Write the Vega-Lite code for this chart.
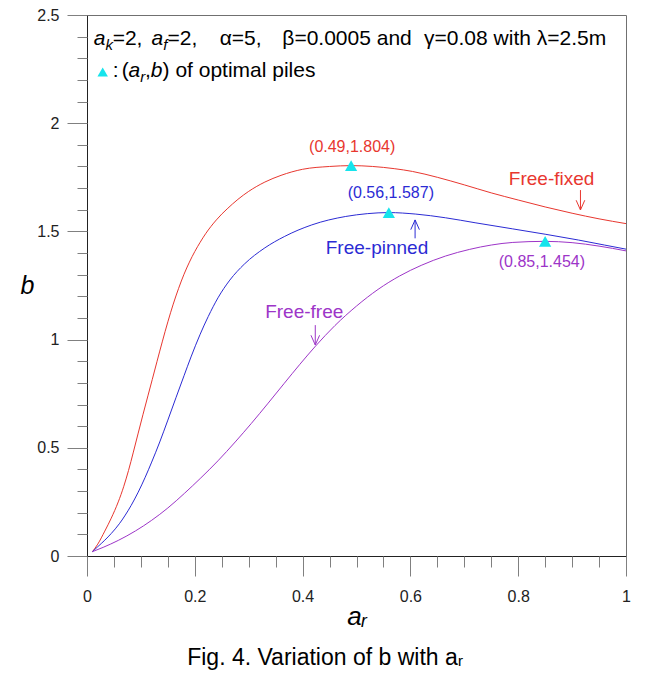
{
  "$schema": "https://vega.github.io/schema/vega-lite/v6.json",
  "width": 539,
  "height": 541,
  "autosize": "none",
  "padding": {"left": 87, "top": 15, "right": 21, "bottom": 129},
  "background": "white",
  "config": {
    "font": "Liberation Sans",
    "view": {"stroke": "#707070", "strokeWidth": 1}
  },
  "title": {
    "text": "Fig. 4. Variation of  b  with  aᵣ",
    "orient": "bottom",
    "anchor": "middle",
    "frame": "bounds",
    "font": "Liberation Sans",
    "fontSize": 23,
    "fontWeight": "normal",
    "color": "#000",
    "offset": 18
  },
  "resolve": {"axis": {"x": "independent", "y": "independent"}},
  "datasets": {
    "curves": [
      {"s": "Free-fixed", "x": 0.01, "y": 0.02},
      {"s": "Free-fixed", "x": 0.02, "y": 0.055},
      {"s": "Free-fixed", "x": 0.033, "y": 0.115},
      {"s": "Free-fixed", "x": 0.045, "y": 0.175},
      {"s": "Free-fixed", "x": 0.058, "y": 0.25},
      {"s": "Free-fixed", "x": 0.068, "y": 0.32},
      {"s": "Free-fixed", "x": 0.077, "y": 0.395},
      {"s": "Free-fixed", "x": 0.086, "y": 0.48},
      {"s": "Free-fixed", "x": 0.095, "y": 0.568},
      {"s": "Free-fixed", "x": 0.104, "y": 0.655},
      {"s": "Free-fixed", "x": 0.113, "y": 0.74},
      {"s": "Free-fixed", "x": 0.121, "y": 0.815},
      {"s": "Free-fixed", "x": 0.13, "y": 0.9},
      {"s": "Free-fixed", "x": 0.14, "y": 0.993},
      {"s": "Free-fixed", "x": 0.15, "y": 1.082},
      {"s": "Free-fixed", "x": 0.16, "y": 1.164},
      {"s": "Free-fixed", "x": 0.17, "y": 1.237},
      {"s": "Free-fixed", "x": 0.18, "y": 1.302},
      {"s": "Free-fixed", "x": 0.19, "y": 1.358},
      {"s": "Free-fixed", "x": 0.2, "y": 1.407},
      {"s": "Free-fixed", "x": 0.21, "y": 1.45},
      {"s": "Free-fixed", "x": 0.22, "y": 1.489},
      {"s": "Free-fixed", "x": 0.23, "y": 1.523},
      {"s": "Free-fixed", "x": 0.24, "y": 1.553},
      {"s": "Free-fixed", "x": 0.25, "y": 1.58},
      {"s": "Free-fixed", "x": 0.26, "y": 1.604},
      {"s": "Free-fixed", "x": 0.28, "y": 1.648},
      {"s": "Free-fixed", "x": 0.3, "y": 1.685},
      {"s": "Free-fixed", "x": 0.33, "y": 1.728},
      {"s": "Free-fixed", "x": 0.36, "y": 1.759},
      {"s": "Free-fixed", "x": 0.4, "y": 1.787},
      {"s": "Free-fixed", "x": 0.45, "y": 1.8},
      {"s": "Free-fixed", "x": 0.49, "y": 1.804},
      {"s": "Free-fixed", "x": 0.53, "y": 1.8},
      {"s": "Free-fixed", "x": 0.57, "y": 1.79},
      {"s": "Free-fixed", "x": 0.604, "y": 1.777},
      {"s": "Free-fixed", "x": 0.65, "y": 1.75},
      {"s": "Free-fixed", "x": 0.7, "y": 1.715},
      {"s": "Free-fixed", "x": 0.75, "y": 1.678},
      {"s": "Free-fixed", "x": 0.8, "y": 1.645},
      {"s": "Free-fixed", "x": 0.85, "y": 1.613},
      {"s": "Free-fixed", "x": 0.9, "y": 1.584},
      {"s": "Free-fixed", "x": 0.95, "y": 1.558},
      {"s": "Free-fixed", "x": 1.0, "y": 1.536},
      {"s": "Free-pinned", "x": 0.01, "y": 0.02},
      {"s": "Free-pinned", "x": 0.02, "y": 0.043},
      {"s": "Free-pinned", "x": 0.033, "y": 0.073},
      {"s": "Free-pinned", "x": 0.045, "y": 0.104},
      {"s": "Free-pinned", "x": 0.06, "y": 0.149},
      {"s": "Free-pinned", "x": 0.07, "y": 0.185},
      {"s": "Free-pinned", "x": 0.082, "y": 0.234},
      {"s": "Free-pinned", "x": 0.095, "y": 0.295},
      {"s": "Free-pinned", "x": 0.108, "y": 0.364},
      {"s": "Free-pinned", "x": 0.12, "y": 0.434},
      {"s": "Free-pinned", "x": 0.135, "y": 0.527},
      {"s": "Free-pinned", "x": 0.15, "y": 0.628},
      {"s": "Free-pinned", "x": 0.165, "y": 0.731},
      {"s": "Free-pinned", "x": 0.18, "y": 0.833},
      {"s": "Free-pinned", "x": 0.193, "y": 0.92},
      {"s": "Free-pinned", "x": 0.21, "y": 1.025},
      {"s": "Free-pinned", "x": 0.225, "y": 1.107},
      {"s": "Free-pinned", "x": 0.243, "y": 1.193},
      {"s": "Free-pinned", "x": 0.265, "y": 1.275},
      {"s": "Free-pinned", "x": 0.292, "y": 1.349},
      {"s": "Free-pinned", "x": 0.33, "y": 1.424},
      {"s": "Free-pinned", "x": 0.366, "y": 1.476},
      {"s": "Free-pinned", "x": 0.417, "y": 1.53},
      {"s": "Free-pinned", "x": 0.48, "y": 1.569},
      {"s": "Free-pinned", "x": 0.52, "y": 1.582},
      {"s": "Free-pinned", "x": 0.56, "y": 1.587},
      {"s": "Free-pinned", "x": 0.61, "y": 1.58},
      {"s": "Free-pinned", "x": 0.665, "y": 1.563},
      {"s": "Free-pinned", "x": 0.72, "y": 1.54},
      {"s": "Free-pinned", "x": 0.789, "y": 1.512},
      {"s": "Free-pinned", "x": 0.85, "y": 1.487},
      {"s": "Free-pinned", "x": 0.912, "y": 1.46},
      {"s": "Free-pinned", "x": 0.96, "y": 1.437},
      {"s": "Free-pinned", "x": 1.0, "y": 1.418},
      {"s": "Free-free", "x": 0.01, "y": 0.02},
      {"s": "Free-free", "x": 0.03, "y": 0.04},
      {"s": "Free-free", "x": 0.058, "y": 0.072},
      {"s": "Free-free", "x": 0.09, "y": 0.116},
      {"s": "Free-free", "x": 0.12, "y": 0.165},
      {"s": "Free-free", "x": 0.15, "y": 0.222},
      {"s": "Free-free", "x": 0.181, "y": 0.29},
      {"s": "Free-free", "x": 0.21, "y": 0.358},
      {"s": "Free-free", "x": 0.243, "y": 0.44},
      {"s": "Free-free", "x": 0.275, "y": 0.527},
      {"s": "Free-free", "x": 0.305, "y": 0.613},
      {"s": "Free-free", "x": 0.335, "y": 0.703},
      {"s": "Free-free", "x": 0.366, "y": 0.798},
      {"s": "Free-free", "x": 0.395, "y": 0.886},
      {"s": "Free-free", "x": 0.424, "y": 0.97},
      {"s": "Free-free", "x": 0.46, "y": 1.065},
      {"s": "Free-free", "x": 0.5, "y": 1.155},
      {"s": "Free-free", "x": 0.54, "y": 1.232},
      {"s": "Free-free", "x": 0.58, "y": 1.294},
      {"s": "Free-free", "x": 0.62, "y": 1.343},
      {"s": "Free-free", "x": 0.665, "y": 1.386},
      {"s": "Free-free", "x": 0.71, "y": 1.417},
      {"s": "Free-free", "x": 0.75, "y": 1.437},
      {"s": "Free-free", "x": 0.79, "y": 1.449},
      {"s": "Free-free", "x": 0.85, "y": 1.454},
      {"s": "Free-free", "x": 0.9, "y": 1.448},
      {"s": "Free-free", "x": 0.95, "y": 1.432},
      {"s": "Free-free", "x": 1.0, "y": 1.41}
    ],
    "arrows": [
      {"s": "Free-fixed", "g": "r1", "o": 1, "x": 0.9155, "y": 1.691},
      {"s": "Free-fixed", "g": "r1", "o": 2, "x": 0.9155, "y": 1.599},
      {"s": "Free-fixed", "g": "r2", "o": 1, "x": 0.9075, "y": 1.644},
      {"s": "Free-fixed", "g": "r2", "o": 2, "x": 0.9155, "y": 1.599},
      {"s": "Free-fixed", "g": "r2", "o": 3, "x": 0.9235, "y": 1.644},
      {"s": "Free-pinned", "g": "b1", "o": 1, "x": 0.6087, "y": 1.468},
      {"s": "Free-pinned", "g": "b1", "o": 2, "x": 0.6087, "y": 1.553},
      {"s": "Free-pinned", "g": "b2", "o": 1, "x": 0.6007, "y": 1.508},
      {"s": "Free-pinned", "g": "b2", "o": 2, "x": 0.6087, "y": 1.553},
      {"s": "Free-pinned", "g": "b2", "o": 3, "x": 0.6167, "y": 1.508},
      {"s": "Free-free", "g": "p1", "o": 1, "x": 0.4235, "y": 1.067},
      {"s": "Free-free", "g": "p1", "o": 2, "x": 0.4235, "y": 0.975},
      {"s": "Free-free", "g": "p2", "o": 1, "x": 0.4155, "y": 1.02},
      {"s": "Free-free", "g": "p2", "o": 2, "x": 0.4235, "y": 0.975},
      {"s": "Free-free", "g": "p2", "o": 3, "x": 0.4315, "y": 1.02}
    ],
    "peaks": [
      {"s": "Free-fixed", "x": 0.49, "y": 1.804},
      {"s": "Free-pinned", "x": 0.56, "y": 1.587},
      {"s": "Free-free", "x": 0.85, "y": 1.454}
    ],
    "notes": [
      {"s": "Free-fixed", "kind": "coord", "x": 0.492, "y": 1.89, "text": "(0.49,1.804)"},
      {"s": "Free-pinned", "kind": "coord", "x": 0.5637, "y": 1.676, "text": "(0.56,1.587)"},
      {"s": "Free-free", "kind": "coord", "x": 0.844, "y": 1.36, "text": "(0.85,1.454)"},
      {"s": "Free-fixed", "kind": "name", "x": 0.862, "y": 1.742, "text": "Free-fixed"},
      {"s": "Free-pinned", "kind": "name", "x": 0.538, "y": 1.423, "text": "Free-pinned"},
      {"s": "Free-free", "kind": "name", "x": 0.403, "y": 1.129, "text": "Free-free"}
    ],
    "legend": [
      {"st": "i", "x": 0.0124, "y": 2.361, "text": "a"},
      {"st": "s", "x": 0.0341, "y": 2.361, "text": "k"},
      {"st": "n", "x": 0.0476, "y": 2.361, "text": "=2,"},
      {"st": "i", "x": 0.1198, "y": 2.361, "text": "a"},
      {"st": "s", "x": 0.1415, "y": 2.361, "text": "f"},
      {"st": "n", "x": 0.1494, "y": 2.361, "text": "=2,"},
      {"st": "n", "x": 0.2461, "y": 2.361, "text": "α=5,"},
      {"st": "n", "x": 0.3624, "y": 2.361, "text": "β=0.0005 and"},
      {"st": "n", "x": 0.6254, "y": 2.361, "text": "γ=0.08 with λ=2.5m"},
      {"st": "n", "x": 0.0476, "y": 2.2135, "text": ":"},
      {"st": "n", "x": 0.0643, "y": 2.2135, "text": "("},
      {"st": "i", "x": 0.0772, "y": 2.2135, "text": "a"},
      {"st": "s", "x": 0.0989, "y": 2.2135, "text": "r"},
      {"st": "n", "x": 0.1078, "y": 2.2135, "text": ","},
      {"st": "i", "x": 0.1185, "y": 2.2135, "text": "b"},
      {"st": "n", "x": 0.1402, "y": 2.2135, "text": ") of optimal piles"}
    ],
    "legendmark": [
      {"x": 0.0291, "y": 2.2366}
    ]
  },
  "layer": [
    {
      "data": {"name": "curves"},
      "mark": {"type": "line", "strokeWidth": 1, "interpolate": "monotone"},
      "encoding": {
        "x": {
          "field": "x",
          "type": "quantitative",
          "scale": {"domain": [0, 1], "nice": false, "zero": false},
          "axis": {
            "orient": "bottom",
            "values": [0, 0.2, 0.4, 0.6, 0.8, 1],
            "format": "~g",
            "tickSize": 20,
            "tickColor": "#808080",
            "domainColor": "#222",
            "grid": false,
            "labelFont": "Liberation Sans",
            "labelFontSize": 16,
            "labelColor": "#222",
            "labelPadding": 12,
            "labelFlush": false,
            "labelOverlap": false,
            "title": "aᵣ",
            "titleFont": "Liberation Sans",
            "titleFontStyle": "italic",
            "titleFontWeight": "normal",
            "titleFontSize": 26,
            "titleColor": "#000",
            "titleAlign": "center",
            "titleBaseline": "middle",
            "titleX": 269.5,
            "titleY": 60
          }
        },
        "y": {
          "field": "y",
          "type": "quantitative",
          "scale": {"domain": [0, 2.5], "nice": false, "zero": false},
          "axis": {
            "orient": "left",
            "values": [0, 0.5, 1, 1.5, 2, 2.5],
            "format": "~g",
            "tickSize": 20,
            "tickColor": "#808080",
            "domainColor": "#222",
            "grid": false,
            "labelFont": "Liberation Sans",
            "labelFontSize": 16,
            "labelColor": "#222",
            "labelPadding": 8,
            "labelFlush": false,
            "labelOverlap": false,
            "title": "b",
            "titleFont": "Liberation Sans",
            "titleFontStyle": "italic",
            "titleFontWeight": "normal",
            "titleFontSize": 25,
            "titleColor": "#000",
            "titleAngle": 0,
            "titleAlign": "center",
            "titleBaseline": "middle",
            "titleX": -60,
            "titleY": 270.5
          }
        },
        "color": {
          "field": "s",
          "type": "nominal",
          "scale": {"domain": ["Free-fixed", "Free-pinned", "Free-free"], "range": ["#e8372f", "#2b2bd4", "#9d35c8"]},
          "legend": null
        }
      }
    },
    {
      "data": {"name": "arrows"},
      "mark": {"type": "line", "strokeWidth": 1},
      "encoding": {
        "x": {
          "field": "x",
          "type": "quantitative",
          "axis": {
            "orient": "bottom",
            "values": [0, 0.05, 0.1, 0.15, 0.2, 0.25, 0.3, 0.35, 0.4, 0.45, 0.5, 0.55, 0.6, 0.65, 0.7, 0.75, 0.8, 0.85, 0.9, 0.95, 1],
            "tickSize": 11,
            "tickColor": "#808080",
            "domain": false,
            "labels": false,
            "grid": false,
            "title": null
          }
        },
        "y": {
          "field": "y",
          "type": "quantitative",
          "axis": {
            "orient": "left",
            "values": [0, 0.1, 0.2, 0.3, 0.4, 0.5, 0.6, 0.7, 0.8, 0.9, 1, 1.1, 1.2, 1.3, 1.4, 1.5, 1.6, 1.7, 1.8, 1.9, 2, 2.1, 2.2, 2.3, 2.4, 2.5],
            "tickSize": 10,
            "tickColor": "#808080",
            "domain": false,
            "labels": false,
            "grid": false,
            "title": null
          }
        },
        "color": {"field": "s", "type": "nominal", "legend": null},
        "detail": {"field": "g"},
        "order": {"field": "o", "type": "quantitative"}
      }
    },
    {
      "data": {"name": "peaks"},
      "mark": {"type": "point", "shape": "triangle-up", "filled": true, "color": "#16e4ec", "opacity": 1, "size": 150},
      "encoding": {
        "x": {"field": "x", "type": "quantitative", "axis": null},
        "y": {"field": "y", "type": "quantitative", "axis": null}
      }
    },
    {
      "data": {"name": "notes"},
      "transform": [{"filter": "datum.kind == 'coord'"}],
      "mark": {"type": "text", "fontSize": 16, "font": "Liberation Sans", "align": "center", "baseline": "middle"},
      "encoding": {
        "x": {"field": "x", "type": "quantitative", "axis": null},
        "y": {"field": "y", "type": "quantitative", "axis": null},
        "text": {"field": "text"},
        "color": {"field": "s", "type": "nominal", "legend": null}
      }
    },
    {
      "data": {"name": "notes"},
      "transform": [{"filter": "datum.kind == 'name'"}],
      "mark": {"type": "text", "fontSize": 19, "font": "Liberation Sans", "align": "center", "baseline": "middle"},
      "encoding": {
        "x": {"field": "x", "type": "quantitative", "axis": null},
        "y": {"field": "y", "type": "quantitative", "axis": null},
        "text": {"field": "text"},
        "color": {"field": "s", "type": "nominal", "legend": null}
      }
    },
    {
      "data": {"name": "legend"},
      "transform": [{"filter": "datum.st == 'n'"}],
      "mark": {"type": "text", "fontSize": 21, "font": "Liberation Sans", "align": "left", "baseline": "alphabetic", "color": "#000"},
      "encoding": {
        "x": {"field": "x", "type": "quantitative", "axis": null},
        "y": {"field": "y", "type": "quantitative", "axis": null},
        "text": {"field": "text"}
      }
    },
    {
      "data": {"name": "legend"},
      "transform": [{"filter": "datum.st == 'i'"}],
      "mark": {"type": "text", "fontSize": 21, "font": "Liberation Sans", "fontStyle": "italic", "align": "left", "baseline": "alphabetic", "color": "#000"},
      "encoding": {
        "x": {"field": "x", "type": "quantitative", "axis": null},
        "y": {"field": "y", "type": "quantitative", "axis": null},
        "text": {"field": "text"}
      }
    },
    {
      "data": {"name": "legend"},
      "transform": [{"filter": "datum.st == 's'"}],
      "mark": {"type": "text", "fontSize": 15, "font": "Liberation Sans", "fontStyle": "italic", "align": "left", "baseline": "alphabetic", "dy": 5, "color": "#000"},
      "encoding": {
        "x": {"field": "x", "type": "quantitative", "axis": null},
        "y": {"field": "y", "type": "quantitative", "axis": null},
        "text": {"field": "text"}
      }
    },
    {
      "data": {"name": "legendmark"},
      "mark": {"type": "point", "shape": "triangle-up", "filled": true, "color": "#16e4ec", "opacity": 1, "size": 110},
      "encoding": {
        "x": {"field": "x", "type": "quantitative", "axis": null},
        "y": {"field": "y", "type": "quantitative", "axis": null}
      }
    }
  ]
}
